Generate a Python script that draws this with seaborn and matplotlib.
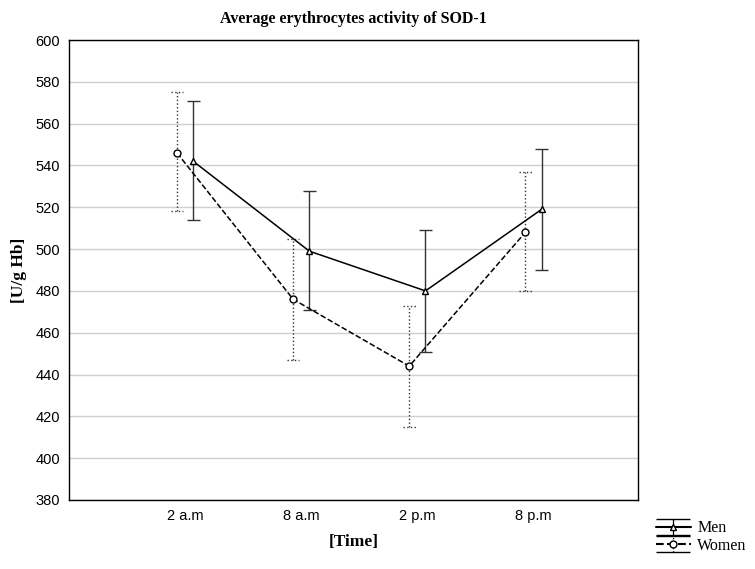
#!/usr/bin/env python3
"""Average erythrocytes activity of SOD-1 by time of day."""
import matplotlib

matplotlib.use("Agg")
import matplotlib.pyplot as plt  # noqa: E402
import numpy as np  # noqa: E402
import pandas as pd  # noqa: E402
import seaborn as sns  # noqa: E402
from matplotlib.legend_handler import HandlerTuple  # noqa: E402

times = ["2 a.m", "8 a.m", "2 p.m", "8 p.m"]
men_mean = [542, 499, 480, 519]
men_low = [514, 471, 451, 490]
men_high = [571, 528, 509, 548]
women_mean = [546, 476, 444, 508]
women_low = [518, 447, 415, 480]
women_high = [575, 505, 473, 537]

sns.set_style("white")
plt.rcParams["font.family"] = ["Liberation Sans", "DejaVu Sans"]
plt.rcParams["text.color"] = "black"
plt.rcParams["axes.labelcolor"] = "black"
plt.rcParams["xtick.color"] = "black"
plt.rcParams["ytick.color"] = "black"
SERIF = ["Liberation Serif", "DejaVu Serif"]

fig = plt.figure(figsize=(7.55, 5.69), dpi=100)
ax = fig.add_axes([0.0914, 0.1213, 0.7536, 0.8084])

pos = np.arange(1, len(times) + 1)
series = [
    ("Men", men_mean, men_low, men_high, 0.07, "-", "-", "^"),
    ("Women", women_mean, women_low, women_high, -0.07, "--", ":", "o"),
]
frames = []
for name, mean, low, high, off, *_ in series:
    frames.append(pd.DataFrame({"x": pos + off, "y": mean, "group": name}))
df = pd.concat(frames, ignore_index=True)

handles = []
for name, mean, low, high, off, ls, els, mk in series:
    sub = df[df["group"] == name]
    sns.lineplot(data=sub, x="x", y="y", ax=ax, color="black", linewidth=1.1,
                 linestyle=ls, marker=mk, markersize=5, markerfacecolor="white",
                 markeredgecolor="black", markeredgewidth=1.0, zorder=3)
    x = pos + off
    ax.vlines(x, low, high, colors="#333333", linewidth=1.0, linestyles=els, zorder=2)
    ax.hlines(low, x - 0.055, x + 0.055, colors="#333333", linewidth=1.0,
              linestyles=els, zorder=2)
    ax.hlines(high, x - 0.055, x + 0.055, colors="#333333", linewidth=1.0,
              linestyles=els, zorder=2)
    eb = ax.errorbar([np.nan], [np.nan], yerr=[1], fmt="none", ecolor="black",
                     elinewidth=0.9, capsize=12)
    eb[2][0].set_linestyle(els)
    for cap in eb[1]:
        cap.set_linestyle(els)
    ln, = ax.plot([], [], color="black", linestyle=ls, marker=mk, markersize=5,
                  markerfacecolor="white", markeredgecolor="black")
    handles.append(((eb, ln), name))

ax.set_xlim(0, 4.9)
ax.set_ylim(380, 600)
ax.set_xticks(pos)
ax.set_xticklabels(times, fontsize=10.5)
ax.set_yticks(np.arange(380, 601, 20))
ax.tick_params(axis="y", labelsize=10.5, length=3, direction="out")
ax.tick_params(axis="x", length=3, direction="out")
ax.yaxis.grid(True, color="#d0d0d0", linewidth=1.0)
ax.set_axisbelow(True)
for sp in ax.spines.values():
    sp.set_color("black")
    sp.set_linewidth(1.0)

ax.set_title("Average erythrocytes activity of SOD-1", family=SERIF,
             fontsize=11.5, fontweight="bold", pad=12)
ax.set_ylabel("[U/g Hb]", family=SERIF, fontsize=12.5, fontweight="bold", labelpad=6)
ax.set_xlabel("[Time]", family=SERIF, fontsize=12.5, fontweight="bold", labelpad=8)

ax.legend([h for h, _ in handles], [n for _, n in handles],
          handler_map={tuple: HandlerTuple(ndivide=1)},
          loc="upper left", bbox_to_anchor=(1.02, -0.03), frameon=False,
          prop={"family": SERIF, "size": 11.5}, handlelength=2.2,
          handletextpad=0.4, labelspacing=0.1, borderaxespad=0)

fig.savefig("out.png", dpi=100)
